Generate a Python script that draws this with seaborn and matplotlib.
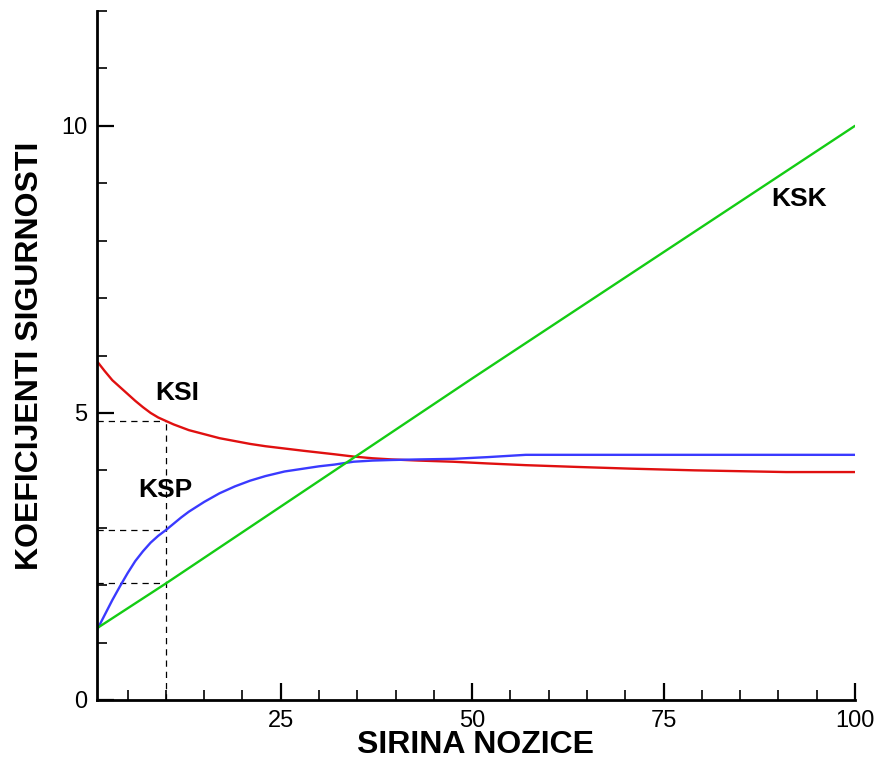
import numpy as np
import pandas as pd
import matplotlib
matplotlib.use("Agg")
import matplotlib.pyplot as plt
import seaborn as sns
from matplotlib.ticker import MultipleLocator

sns.set_style("ticks")
plt.rcParams['font.family'] = ['Liberation Sans', 'DejaVu Sans']
plt.rcParams['text.color'] = 'black'
plt.rcParams['axes.labelcolor'] = 'black'
plt.rcParams['xtick.color'] = 'black'
plt.rcParams['ytick.color'] = 'black'
plt.rcParams['axes.edgecolor'] = 'black'

# values
x_vals = [1, 2, 3, 4, 5, 6, 7, 8, 9, 10, 11, 12, 13, 15, 17, 19, 21, 23, 25.5, 28, 30, 32,
          34.5, 37, 39.5, 43, 47.5, 52, 57, 63.5, 70.5, 79, 91, 100]
ksi = [5.9, 5.73, 5.57, 5.45, 5.33, 5.21, 5.10, 5.00, 4.92, 4.86, 4.80, 4.75, 4.70, 4.63, 4.56,
       4.51, 4.46, 4.42, 4.38, 4.34, 4.31, 4.28, 4.24, 4.21, 4.19, 4.17, 4.15, 4.12, 4.09, 4.06,
       4.03, 4.00, 3.97, 3.97]
ksp = [1.22, 1.48, 1.74, 1.98, 2.21, 2.42, 2.59, 2.74, 2.86, 2.96, 3.07, 3.18, 3.28, 3.45, 3.60,
       3.72, 3.82, 3.90, 3.98, 4.03, 4.07, 4.10, 4.15, 4.17, 4.18, 4.19, 4.20, 4.23, 4.27, 4.27,
       4.27, 4.27, 4.27, 4.27]
x_ksk = [1, 10, 50, 100]
ksk = [1.25, 2.03, 5.6, 10.0]

guide_x = 10
labels = ['KSI', 'KSP', 'KSK']
label_x = [11.5, 9.9, 92.7]
label_y = [5.35, 3.66, 8.73]

df = pd.concat([
    pd.DataFrame({'x': x_vals, 'y': ksi, 'serie': 'KSI'}),
    pd.DataFrame({'x': x_vals, 'y': ksp, 'serie': 'KSP'}),
    pd.DataFrame({'x': x_ksk, 'y': ksk, 'serie': 'KSK'}),
])
colors = {'KSI': '#e01010', 'KSP': '#3a3aff', 'KSK': '#14cc14'}

fig = plt.figure(figsize=(8.78, 7.63), dpi=100)
ax = fig.add_axes([97/878, 1-700/763, (855-97)/878, (700-11)/763])

sns.lineplot(data=df, x='x', y='y', hue='serie', palette=colors, linewidth=1.7,
             legend=False, ax=ax, sort=True, estimator=None)

# dashed guide lines at x = 10
i10 = x_vals.index(guide_x)
g_ksk = ksk[x_ksk.index(guide_x)]
dash = dict(color='k', lw=0.9, ls=(0, (5, 4)), zorder=1)
ax.plot([guide_x, guide_x], [0, ksi[i10]], **dash)
for gy in [ksi[i10], ksp[i10], g_ksk]:
    ax.plot([1, guide_x], [gy, gy], **dash)

for t, tx, ty in zip(labels, label_x, label_y):
    ax.text(tx, ty, t, fontsize=19, fontweight='bold', ha='center', va='center')

ax.set_xlim(1, 100)
ax.set_ylim(0, 12)
ax.set_xticks([25, 50, 75, 100])
ax.set_yticks([0, 5, 10])
ax.xaxis.set_minor_locator(MultipleLocator(5))
ax.yaxis.set_minor_locator(MultipleLocator(1))
ax.tick_params(which='major', direction='in', length=12, width=1.6, labelsize=17, pad=7)
ax.tick_params(which='minor', direction='in', length=7.5, width=1.2)

sns.despine(ax=ax)
for s in ['left', 'bottom']:
    ax.spines[s].set_linewidth(2)

ax.set_xlabel('SIRINA NOZICE', fontsize=23, fontweight='bold')
ax.set_ylabel('KOEFICIJENTI SIGURNOSTI', fontsize=23, fontweight='bold')
ax.xaxis.set_label_coords(0.5, -0.043)
ax.yaxis.set_label_coords(-0.069, 0.5)

fig.savefig('out.png', dpi=100)
